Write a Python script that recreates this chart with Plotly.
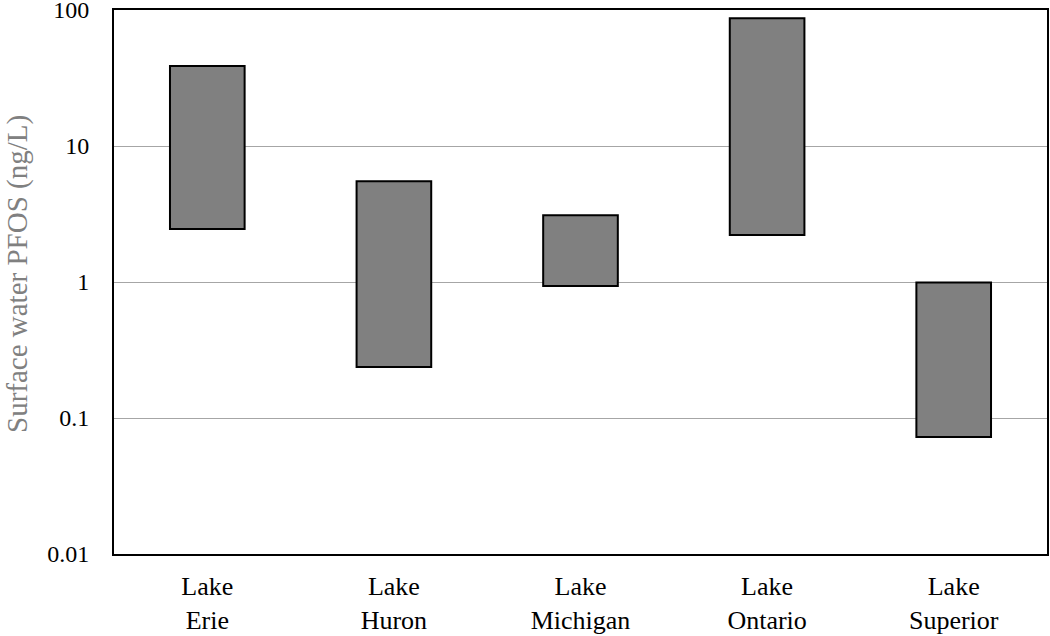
import plotly.graph_objects as go

lakes = ["Lake<br>Erie", "Lake<br>Huron", "Lake<br>Michigan", "Lake<br>Ontario", "Lake<br>Superior"]
pfos_min = [2.45, 0.237, 0.935, 2.22, 0.0725]
pfos_max = [38.7, 5.5, 3.1, 87.0, 0.99]
tick_vals = [0.01, 0.1, 1, 10, 100]
tick_text = ["0.01", "0.1", "1", "10", "100"]
y_title = "Surface water PFOS (ng/L)"

fig = go.Figure()
fig.add_trace(go.Bar(
    x=lakes,
    y=[hi - lo for hi, lo in zip(pfos_max, pfos_min)],
    base=pfos_min,
    width=0.4,
    marker=dict(color="#808080", line=dict(color="black", width=2)),
    showlegend=False,
))

font_family = "Times New Roman, Liberation Serif, DejaVu Serif, serif"
fig.update_layout(
    width=1050, height=636,
    margin=dict(l=114, r=3, t=10, b=82),
    plot_bgcolor="white", paper_bgcolor="white",
    font=dict(family=font_family, size=22, color="black"),
    xaxis=dict(
        showline=True, linecolor="black", linewidth=2, mirror=True,
        showgrid=False, ticks="", ticklabelstandoff=8, automargin=False,
        tickfont=dict(size=26, family=font_family, color="black"),
    ),
    yaxis=dict(
        type="log", range=[-2, 2.00001],
        tickvals=tick_vals, ticktext=tick_text,
        showline=True, linecolor="black", linewidth=2, mirror=True,
        showgrid=True, gridcolor="#a6a6a6", gridwidth=1,
        ticks="", ticklabelstandoff=18, automargin=False,
        ticklabeloverflow="allow",
        tickfont=dict(size=24, family=font_family, color="black"),
    ),
    annotations=[dict(
        text=y_title, textangle=-90, showarrow=False,
        xref="paper", yref="paper", x=0, y=0.5147,
        xanchor="center", yanchor="middle", xshift=-97,
        font=dict(size=29, family=font_family, color="#808080"),
    )],
)
fig.write_html("out.html", config={"displayModeBar": False},
               post_script="document.body.style.margin='0px';")
